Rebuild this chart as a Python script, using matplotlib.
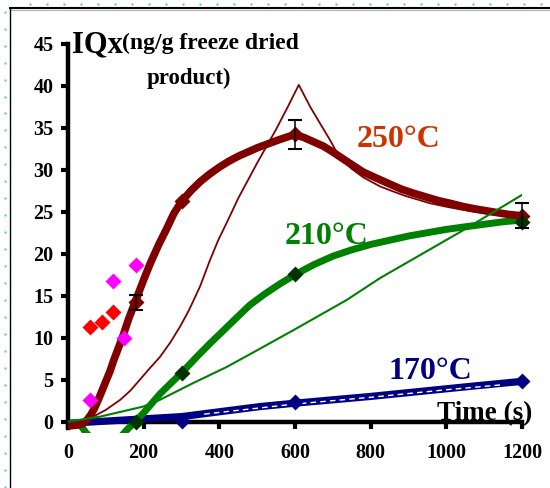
import numpy as np
import matplotlib
matplotlib.use('Agg')
import matplotlib.pyplot as plt
from matplotlib.lines import Line2D

plt.rcParams['font.family'] = ['Liberation Serif', 'DejaVu Serif']
plt.rcParams['font.weight'] = 'bold'

# measured values (markers)
t_meas = [180, 300, 600, 1200]
iqx_250 = [14.2, 26.3, 34.2, 24.5]
iqx_210 = [0.0, 5.8, 17.6, 23.8]
t_170 = [300, 600, 1200]
iqx_170 = [0.1, 2.3, 4.8]

# error bars on the 250 C series
t_err = [180, 600, 1200]
y_err = [14.2, 34.2, 24.5]
e_err = [0.9, 1.75, 1.5]

# extra points (red / magenta diamonds)
t_red = [57, 90, 120]
y_red = [11.3, 11.9, 13.1]
t_mag = [57, 119, 149, 180]
y_mag = [2.6, 16.7, 10.0, 18.7]

# thick fitted curves
fit250_t = [5, 25, 40, 50, 60, 70, 80, 90, 100, 111, 120, 130, 146, 160, 177, 200,
            217, 240, 260, 280, 300, 325, 350, 375, 400, 425, 450, 475, 500, 530,
            560, 600, 625, 650, 675, 700, 740, 781, 820, 850, 880, 913, 950, 980,
            1010, 1045, 1080, 1120, 1160, 1200]
fit250_y = [-0.5, -0.4, -0.2, 0.2, 0.8, 1.6, 2.6, 3.7, 4.8, 6.0, 7.2, 8.4, 10.3,
            12.2, 14.2, 16.9, 18.8, 21.1, 22.9, 24.8, 26.2, 27.5, 28.6, 29.5, 30.3,
            31.0, 31.6, 32.1, 32.6, 33.1, 33.6, 34.2, 33.8, 33.3, 32.8, 32.1, 30.9,
            29.7, 28.9, 28.3, 27.7, 27.2, 26.7, 26.3, 26.0, 25.6, 25.3, 25.0, 24.7,
            24.5]

fit210_t = [25, 36, 49, 70, 100, 130, 155, 180, 199, 220, 243, 270, 300, 340, 375,
            405, 437, 481, 520, 560, 600, 650, 700, 746, 800, 850, 900, 950, 1001,
            1050, 1100, 1150, 1200]
fit210_y = [-0.2, -0.6, -1.4, -2.3, -2.8, -2.3, -1.0, 0.1, 1.0, 2.1, 3.3, 4.5, 5.8,
            7.7, 9.3, 10.6, 12.0, 13.9, 15.2, 16.4, 17.5, 18.7, 19.7, 20.4, 21.1,
            21.6, 22.1, 22.5, 22.9, 23.2, 23.5, 23.8, 24.0]

fit170_t = [0, 300, 508, 600, 799, 1063, 1200]
fit170_y = [-0.2, 0.6, 1.8, 2.2, 3.0, 4.2, 4.8]

# thin model curves
mod250_t = [5, 40, 67, 100, 138, 165, 190, 215, 243, 270, 296, 320, 349, 375, 397,
            425, 450, 475, 500, 525, 550, 580, 610, 625, 640, 665, 693, 710, 728,
            750, 780, 825, 860, 890, 920, 957, 1010, 1071, 1130, 1200]
mod250_y = [-0.1, 0.2, 0.6, 1.4, 2.6, 3.7, 5.0, 6.3, 7.7, 9.4, 11.3, 13.3, 16.1,
            19.2, 21.6, 24.2, 26.6, 28.7, 30.8, 32.8, 34.8, 37.4, 40.1, 38.8, 37.5,
            35.6, 33.5, 32.1, 31.0, 30.1, 29.1, 28.0, 27.4, 26.9, 26.5, 26.0, 25.5,
            25.0, 24.6, 24.3]

mod210_t = [0, 85, 199, 243, 331, 419, 508, 600, 737, 825, 1045, 1200]
mod210_y = [0.0, 0.6, 1.8, 2.6, 4.6, 6.5, 8.7, 11.0, 14.5, 17.1, 22.8, 27.0]

mod170_t = [360, 600, 800, 1000, 1150]
mod170_y = [0.9, 2.1, 2.9, 3.8, 4.4]

DARK_RED = '#800000'
GREEN = '#008000'
DARK_GREEN = '#003300'
NAVY = '#000080'

fig = plt.figure(figsize=(5.5, 4.88), dpi=100)
ax = fig.add_axes([68 / 550, 1 - 433.0 / 488, 454 / 550, (433.0 - 43.7) / 488])
ax.set_xlim(0, 1200)
ax.set_ylim(-1.35, 45)

# curves
ax.plot(fit170_t, fit170_y, color=NAVY, lw=5.2, solid_capstyle='butt', zorder=2)
ax.plot(mod170_t, mod170_y, color='white', lw=1, dashes=(4, 3), zorder=2.1)
ax.plot(fit210_t, fit210_y, color=GREEN, lw=5, solid_joinstyle='round', zorder=3)
ax.plot(fit250_t, fit250_y, color=DARK_RED, lw=5.5, solid_joinstyle='round', zorder=3.2)
ax.plot(mod250_t, mod250_y, color=DARK_RED, lw=1.3, zorder=4)
ax.plot(mod210_t, mod210_y, color=GREEN, lw=1.5, zorder=4.1)

# markers
ax.plot(t_meas, iqx_250, 'D', color=DARK_RED, ms=8, mec='none', zorder=5, clip_on=False)
ax.plot(t_meas, iqx_210, 'D', color=DARK_GREEN, ms=8.5, mec='none', zorder=5.1, clip_on=False)
ax.plot(t_170, iqx_170, 'D', color=NAVY, ms=8.5, mec='none', zorder=5.1, clip_on=False)
ax.plot(t_red, y_red, 'D', color='#ff0000', ms=8, mec='none', zorder=5, clip_on=False)
ax.plot(t_mag, y_mag, 'D', color='#ff00ff', ms=8, mec='none', zorder=5, clip_on=False)
ax.errorbar(t_err, y_err, yerr=e_err, fmt='none', ecolor='black', elinewidth=1.1,
            capsize=4.7, capthick=1.5, zorder=6, clip_on=False)

# axes styling
for s in ['top', 'right']:
    ax.spines[s].set_visible(False)
ax.spines['bottom'].set_position(('data', 0))
ax.spines['bottom'].set_bounds(0, 1200)
ax.spines['left'].set_bounds(-0.75, 45)
for s in ['left', 'bottom']:
    ax.spines[s].set_linewidth(3.2)
    ax.spines[s].set_zorder(1)
ax.set_xticks(np.arange(0, 1201, 200))
ax.set_yticks(np.arange(0, 46, 5))
ax.tick_params(axis='both', direction='out', length=5, width=3, labelsize=14.5)
ax.tick_params(axis='y', pad=5.5)
ax.tick_params(axis='x', pad=10.5)
for lab in ax.get_xticklabels() + ax.get_yticklabels():
    lab.set_fontweight('bold')

# texts
ax.text(10.6, 44.0, 'IQx', fontsize=22, fontweight='bold', ha='left', va='baseline',
        clip_on=False)
ax.text(142, 44.4, '(ng/g freeze dried', fontsize=17, fontweight='bold', ha='left',
        va='baseline', clip_on=False)
ax.text(320, 40.2, 'product)', fontsize=16.5, fontweight='bold', ha='center',
        va='baseline', clip_on=False)
ax.text(873, 32.7, '250°C', fontsize=23, fontweight='bold', color='#cc3300',
        ha='center', va='baseline')
ax.text(684, 21.2, '210°C', fontsize=23, fontweight='bold', color=GREEN,
        ha='center', va='baseline')
ax.text(957, 5.05, '170°C', fontsize=23, fontweight='bold', color=NAVY,
        ha='center', va='baseline')
ax.text(975, 0.2, 'Time (s)', fontsize=19.5, fontweight='bold', ha='left',
        va='baseline', zorder=7, clip_on=False)

# page frame and dotted guides
W, H = 550, 488
fig.add_artist(Line2D([10 / W, 1], [1 - 7.5 / H] * 2, color='black', lw=1.5))
fig.add_artist(Line2D([10 / W, 1], [1 - 9.5 / H] * 2, color='#b0b0b0', lw=0.8))
fig.add_artist(Line2D([10 / W] * 2, [0, 1 - 7.5 / H], color='black', lw=1.0))
dots_x = np.arange(30, 545, 17.02)
fig.add_artist(Line2D(dots_x / W, np.full(len(dots_x), 1 - 3.5 / H), ls='none',
                      marker='s', ms=1.6, color='#40d0b0', mec='none'))
dots_y = np.arange(11.7, 488, 16.96)
fig.add_artist(Line2D(np.full(len(dots_y), 5 / W), 1 - dots_y / H, ls='none',
                      marker='s', ms=1.6, color='#40d0b0', mec='none'))

fig.savefig('out.png', dpi=100)
